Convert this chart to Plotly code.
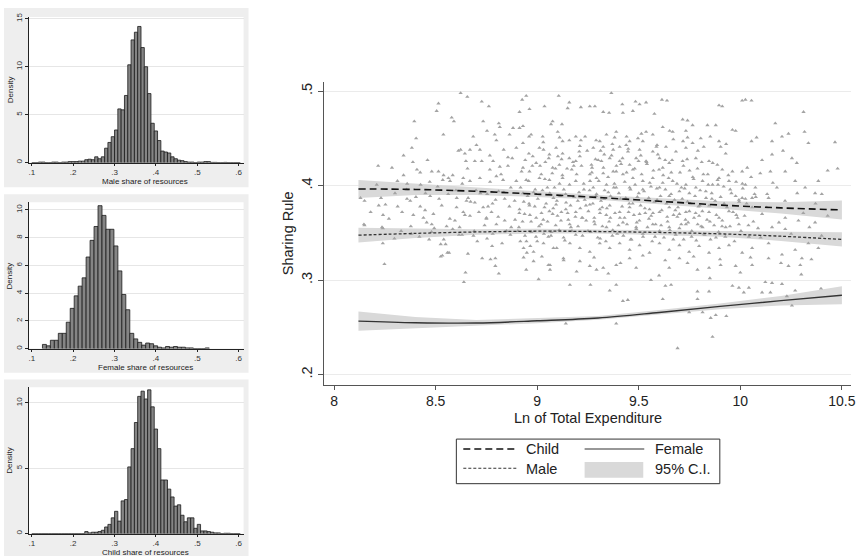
import plotly.graph_objects as go

W, H = 865, 560
FONT = "Liberation Sans, Arial, sans-serif"

# ---------------- Histogram data (density per bin) ----------------
male_bin_start, male_bin_width = 0.1, 0.008
male_density = [0, 0, 0.05, 0.05, 0, 0, 0.05, 0.05, 0, 0.05, 0.05, 0.1, 0.1, 0.1, 0.15, 0.15,
                0.3, 0.35, 0.3, 0.6, 0.4, 0.6, 1.5, 2.1, 2.7, 3.4, 5.6, 5.5, 7.0, 10.2, 12.8, 13.6,
                14.2, 12.0, 10.0, 7.2, 4.1, 3.3, 2.3, 1.2, 1.1, 1.0, 0.6, 0.4, 0.25, 0.2, 0.1, 0.05,
                0.05, 0, 0.05, 0.05, 0.1, 0.1, 0.02, 0.02, 0, 0, 0.02, 0, 0, 0, 0]

female_bin_start, female_bin_width = 0.1257, 0.0096
female_density = [0.3, 0.2, 0.6, 0.6, 1.1, 1.1, 1.9, 2.9, 3.8, 4.5, 5.1, 6.6, 7.8, 8.8, 10.3, 9.6,
                  8.6, 8.6, 7.4, 5.6, 3.9, 2.8, 1.1, 0.7, 0.45, 0.25, 0.4, 0.35, 0.2, 0.1, 0.05, 0.15,
                  0.1, 0.15, 0.1, 0.1, 0.05, 0.05, 0, 0, 0, 0.05]

child_bin_start, child_bin_width = 0.1, 0.008
child_density = [0, 0, 0, 0, 0, 0, 0, 0, 0, 0, 0, 0, 0, 0, 0, 0,
                 0.15, 0.05, 0.1, 0.1, 0.15, 0.25, 0.5, 0.7, 1.2, 1.7, 0.95, 2.5, 2.6, 5.1, 6.5, 8.5,
                 10.5, 10.9, 10.3, 11.0, 9.7, 8.0, 6.5, 4.1, 4.1, 3.4, 2.8, 2.1, 2.2, 1.4, 0.9, 1.2,
                 1.2, 0.4, 0.7, 0.2, 0.2, 0.15, 0.1, 0.05, 0.05, 0, 0.02, 0.02, 0, 0, 0]

hist_xticks = [0.1, 0.2, 0.3, 0.4, 0.5, 0.6]
hist_xticktext = [".1", ".2", ".3", ".4", ".5", ".6"]
male_yticks = [0, 5, 10, 15]
female_yticks = [0, 2, 4, 6, 8, 10]
child_yticks = [0, 5, 10]

# ---------------- Main chart data ----------------
fit_x = [8.12, 8.4, 8.7, 9.0, 9.3, 9.6, 9.9, 10.2, 10.5]
child_fit = [.3965, .3960, .3940, .3910, .3875, .3835, .3795, .3765, .3743]
child_hi = [.4060, .4020, .3980, .3940, .3900, .3865, .3835, .3825, .3843]
child_lo = [.3870, .3900, .3900, .3880, .3850, .3805, .3755, .3705, .3643]
male_fit = [.3476, .3495, .3510, .3518, .3515, .3505, .3490, .3465, .3431]
male_hi = [.3554, .3545, .3540, .3543, .3535, .3530, .3520, .3515, .3506]
male_lo = [.3398, .3445, .3480, .3493, .3495, .3480, .3460, .3415, .3356]
female_fit = [.2567, .2550, .2547, .2570, .2600, .2658, .2722, .2783, .2840]
female_hi = [.2669, .2610, .2577, .2595, .2620, .2683, .2752, .2833, .2935]
female_lo = [.2465, .2490, .2517, .2545, .2580, .2633, .2692, .2733, .2745]

main_xticks = [8, 8.5, 9, 9.5, 10, 10.5]
main_xticktext = ["8", "8.5", "9", "9.5", "10", "10.5"]
main_yticks = [0.2, 0.3, 0.4, 0.5]
main_yticktext = [".2", ".3", ".4", ".5"]

scatter_pts = [
    (8.623, .498), (8.656, .494), (8.727, .489), (8.762, .484), (8.514, .487), (8.505, .479), (8.395, .468),
    (8.579, .472), (8.590, .468), (8.926, .491), (8.946, .495), (8.913, .478), (8.962, .481), (9.036, .484),
    (9.106, .495), (9.150, .482), (9.158, .488), (9.215, .483), (8.734, .468), (8.811, .466), (8.816, .462),
    (8.753, .458), (8.404, .450), (8.538, .454), (8.685, .452), (8.701, .443), (8.718, .438), (8.791, .454),
    (8.799, .448), (8.881, .461), (8.913, .461), (8.930, .463), (8.970, .454), (8.864, .454), (9.027, .452),
    (9.068, .465), (9.076, .468), (9.122, .465), (9.101, .457), (9.125, .447), (9.158, .448), (9.190, .452),
    (9.215, .448), (8.383, .440), (8.342, .432), (8.388, .425), (8.285, .419), (8.217, .421), (8.342, .411),
    (8.408, .417), (8.424, .414), (8.460, .427), (8.481, .415), (8.514, .415), (8.535, .406), (8.563, .408),
    (8.584, .411), (8.612, .437), (8.623, .438), (8.644, .434), (8.669, .438), (8.649, .426), (8.693, .426),
    (8.767, .432), (8.783, .426), (8.767, .417), (8.816, .420), (8.856, .421), (8.835, .438), (8.856, .430),
    (8.897, .440), (8.930, .445), (8.959, .434), (8.978, .431), (8.995, .424), (8.930, .419), (8.962, .415),
    (9.011, .440), (9.031, .438), (9.060, .433), (9.093, .440), (9.125, .434), (9.076, .419), (9.109, .422),
    (9.158, .429), (9.190, .426), (9.207, .436), (8.571, .405), (8.636, .408), (8.669, .405), (8.718, .408),
    (8.799, .410), (8.832, .406), (8.897, .405), (8.946, .406), (9.011, .408), (9.060, .406), (9.125, .408),
    (9.190, .405),
    (8.130, .387), (8.231, .387), (8.220, .379), (8.253, .380), (8.313, .378), (8.359, .386), (8.375, .384),
    (8.241, .369), (8.147, .359), (8.236, .356), (8.378, .357), (8.424, .378), (8.473, .389), (8.489, .370),
    (8.530, .379), (8.440, .366), (8.456, .361), (8.481, .359), (8.554, .357), (8.595, .363), (8.603, .377),
    (8.636, .372), (8.669, .368), (8.652, .384), (8.693, .382), (8.734, .377), (8.758, .378), (8.775, .372),
    (8.750, .366), (8.799, .359), (8.840, .363), (8.872, .356), (8.889, .384), (8.913, .375), (8.938, .370),
    (8.962, .379), (8.995, .366), (9.019, .359), (9.036, .377), (9.076, .370), (9.093, .380), (9.117, .363),
    (9.141, .375), (9.166, .356), (9.190, .372), (9.223, .366),
    (9.365, .498), (9.614, .491), (9.639, .490), (10.009, .490), (10.025, .491), (10.055, .490), (10.311, .478),
    (9.259, .484), (9.284, .484), (9.325, .478), (9.354, .477), (9.419, .486), (9.484, .489), (9.504, .486),
    (9.536, .488), (9.422, .477), (9.471, .479), (9.577, .476), (9.716, .470), (9.740, .469), (9.895, .485),
    (9.911, .484), (10.172, .466), (10.316, .457), (10.466, .446), (10.335, .445), (10.237, .455), (10.205, .452),
    (10.156, .447), (10.055, .447), (9.977, .458), (9.961, .459), (9.895, .447), (9.903, .441), (9.928, .434),
    (9.838, .464), (9.879, .464), (9.765, .464), (9.805, .450), (9.732, .458), (9.667, .457), (9.618, .462),
    (9.569, .454), (9.536, .457), (9.496, .450), (9.455, .447), (9.389, .457), (9.341, .454), (9.308, .447),
    (9.276, .440), (9.325, .441), (9.374, .438), (9.406, .441), (9.438, .443), (9.504, .438), (9.569, .436),
    (9.634, .441), (9.683, .436), (9.732, .440), (9.765, .445), (9.781, .429), (9.846, .426), (9.887, .422),
    (9.716, .426), (9.650, .424), (9.602, .429), (9.536, .426), (9.487, .429), (9.455, .422), (9.406, .426),
    (9.357, .429), (9.316, .426), (9.267, .422), (10.107, .427), (10.156, .433), (10.254, .429), (10.278, .424),
    (10.148, .415), (10.221, .415), (10.270, .405), (10.384, .405), (10.430, .416), (10.479, .418), (10.319, .398),
    (10.368, .392), (10.401, .391), (10.180, .398), (10.132, .391), (10.139, .387), (10.009, .415), (10.034, .419),
    (9.961, .415), (9.911, .417), (9.895, .408), (9.944, .405), (10.025, .401), (10.074, .398), (10.058, .387),
    (10.009, .387), (9.977, .389), (9.863, .401), (9.814, .405), (9.732, .401), (9.667, .405), (9.618, .403),
    (9.569, .408), (9.520, .405), (9.471, .408), (9.422, .412), (9.374, .415), (9.325, .413), (9.292, .408),
    (9.259, .412), (9.276, .398), (9.341, .401), (9.389, .398), (9.455, .398), (9.520, .396), (9.602, .398),
    (9.700, .394), (9.781, .398),
    (9.259, .380), (9.308, .375), (9.357, .379), (9.406, .372), (9.455, .377), (9.504, .370), (9.553, .375),
    (9.602, .372), (9.650, .377), (9.700, .370), (9.749, .373), (9.797, .368), (9.846, .372), (9.895, .366),
    (9.944, .373), (9.993, .385), (10.025, .386), (10.058, .377), (10.107, .370), (10.221, .366), (10.286, .363),
    (10.368, .361), (9.284, .359), (9.341, .356), (9.422, .361), (9.487, .356), (9.569, .359), (9.650, .356),
    (9.732, .359), (9.814, .356), (9.928, .356), (9.993, .359), (10.156, .356), (10.221, .354),
    (9.063, .316), (9.161, .295), (9.262, .295), (9.357, .289), (9.389, .295), (9.422, .278), (9.446, .279),
    (9.389, .254), (9.141, .254), (9.618, .280), (9.631, .294), (9.659, .295), (9.691, .228), (9.789, .288),
    (9.789, .280), (9.846, .288), (9.863, .240), (9.854, .260), (9.879, .263), (9.931, .262), (9.748, .266),
    (9.814, .266), (9.961, .294), (9.993, .292), (10.017, .287), (10.042, .292), (10.107, .287), (10.148, .287),
    (10.123, .298), (10.156, .297), (10.205, .296), (10.229, .283), (10.254, .273), (10.270, .289), (10.397, .291),
    (10.295, .316), (10.303, .323), (10.237, .315), (10.139, .323), (10.058, .316), (9.977, .315), (9.903, .316),
    (9.846, .313), (9.789, .311), (9.740, .318), (9.700, .323), (9.650, .313), (9.560, .300), (9.487, .313),
    (9.455, .323), (9.389, .316), (9.325, .313), (9.292, .311), (9.259, .315), (9.210, .320), (9.194, .309),
    (9.129, .323),
    (8.248, .317), (8.525, .325), (8.558, .329), (8.659, .328), (8.647, .308), (8.639, .298), (8.729, .323),
    (8.770, .322), (8.794, .323), (8.794, .315), (8.811, .307), (8.933, .324), (8.949, .329), (8.982, .320),
    (8.946, .311), (9.007, .301), (9.023, .325), (9.055, .316), (9.063, .311),
    (8.150, .358), (8.240, .355), (8.297, .344), (8.468, .343), (8.525, .338), (8.549, .338), (8.533, .326),
    (8.566, .329), (8.615, .348), (8.705, .341), (8.753, .344), (8.778, .336), (8.827, .339), (8.868, .348),
    (8.917, .341), (8.933, .334), (8.966, .336), (8.982, .330), (9.031, .339), (9.055, .346), (9.080, .334),
    (9.096, .334), (9.161, .339), (9.210, .334), (9.259, .330), (9.308, .339), (9.357, .334), (9.406, .339),
    (9.455, .332), (9.504, .337), (9.553, .329), (9.602, .339), (9.650, .332), (9.700, .337), (9.748, .330),
    (9.797, .336), (9.846, .329), (9.895, .334), (9.944, .337), (10.009, .329), (10.058, .334), (10.139, .339),
    (10.205, .327), (10.270, .332), (10.335, .339), (10.384, .334),
    (9.02, .412), (9.05, .398), (9.08, .387), (9.11, .402), (9.14, .391), (9.17, .417), (9.20, .384),
    (9.23, .396), (9.26, .405), (9.29, .389), (9.32, .377), (9.35, .393), (9.38, .402), (9.41, .386),
    (9.44, .414), (9.47, .381), (9.50, .392), (9.53, .376), (9.56, .399), (9.59, .385), (9.62, .411),
    (9.65, .389), (9.68, .374), (9.71, .398), (9.74, .383), (9.77, .407), (9.80, .379), (9.83, .394),
    (9.86, .386), (9.89, .401),
    (9.03, .364), (9.07, .351), (9.10, .368), (9.13, .345), (9.16, .359), (9.19, .348), (9.22, .366),
    (9.25, .352), (9.28, .362), (9.31, .344), (9.34, .369), (9.37, .347), (9.40, .358), (9.43, .366),
    (9.46, .343), (9.49, .361), (9.52, .349), (9.55, .365), (9.58, .346), (9.61, .358), (9.64, .367),
    (9.67, .343), (9.70, .355), (9.73, .364), (9.76, .346), (9.79, .359), (9.82, .349), (9.85, .362),
    (9.88, .345), (9.91, .357),
    (9.04, .425), (9.09, .418), (9.12, .428), (9.18, .421), (9.21, .431), (9.27, .419), (9.30, .427),
    (9.33, .433), (9.39, .421), (9.42, .429), (9.48, .418), (9.51, .432), (9.54, .423), (9.60, .417),
    (9.63, .427), (9.66, .414), (9.72, .421), (9.75, .416), (9.81, .425), (9.84, .412),
    (8.93, .392), (8.96, .381), (8.99, .396), (8.91, .356), (8.94, .347), (8.97, .362), (9.00, .341),
    (8.87, .398), (8.84, .386), (8.81, .394), (8.78, .381), (8.75, .365), (8.72, .392), (8.69, .352),
    (8.66, .387), (8.63, .348), (8.60, .395), (8.57, .365), (8.54, .343), (8.51, .399), (8.48, .351),
    (8.45, .392), (8.42, .346), (8.39, .369), (8.36, .402), (8.33, .352), (8.30, .392), (8.27, .365),
    (8.24, .339), (8.21, .401), (8.18, .372), (8.15, .384),
    (9.06, .373), (9.15, .371), (9.24, .379), (9.33, .386), (9.36, .366), (9.45, .372), (9.57, .371),
    (9.69, .367), (9.78, .371), (9.92, .381), (9.95, .396), (9.98, .369), (10.01, .402), (10.04, .358),
    (10.07, .391), (10.10, .345), (10.13, .377), (10.16, .403), (10.19, .361), (10.22, .384), (10.25, .349),
    (10.28, .392), (10.31, .371), (10.34, .356), (10.37, .381), (10.40, .347), (10.43, .368),
    (9.21, .442), (9.29, .448), (9.37, .444), (9.44, .452), (9.52, .447), (9.59, .443), (9.67, .449),
    (9.11, .451), (9.03, .446), (8.96, .452), (9.74, .451), (9.82, .441), (9.93, .444), (10.08, .451),
    (10.21, .437),
    (9.13, .321), (9.28, .324), (9.41, .318), (9.52, .326), (9.63, .321), (9.77, .325), (9.90, .322),
    (10.05, .324), (10.20, .318), (10.35, .322), (9.35, .307), (9.60, .305), (9.85, .302), (10.00, .308),
    (10.30, .306),
    # dense core, estimated
    (8.905, .352), (8.912, .371), (8.918, .398), (8.923, .415), (8.928, .362), (8.934, .383), (8.941, .427),
    (8.947, .341), (8.953, .389), (8.958, .405), (8.964, .369), (8.971, .351), (8.976, .421), (8.982, .393),
    (8.988, .378), (8.994, .346),
    (9.003, .386), (9.009, .357), (9.014, .421), (9.021, .371), (9.026, .395), (9.033, .349), (9.038, .407),
    (9.044, .381), (9.051, .362), (9.057, .429), (9.062, .392), (9.068, .347), (9.074, .413), (9.079, .376),
    (9.085, .398), (9.091, .358), (9.097, .384),
    (9.102, .431), (9.108, .353), (9.113, .389), (9.119, .372), (9.124, .411), (9.131, .396), (9.136, .342),
    (9.142, .382), (9.147, .418), (9.153, .364), (9.159, .401), (9.164, .379), (9.171, .352), (9.176, .425),
    (9.182, .388), (9.188, .367), (9.194, .412),
    (9.201, .357), (9.206, .393), (9.212, .376), (9.218, .421), (9.223, .347), (9.229, .402), (9.234, .385),
    (9.241, .363), (9.246, .437), (9.252, .373), (9.258, .395), (9.263, .351), (9.269, .414), (9.274, .381),
    (9.281, .366), (9.287, .428), (9.292, .391), (9.298, .345),
    (9.303, .405), (9.309, .371), (9.314, .384), (9.321, .357), (9.326, .419), (9.332, .395), (9.338, .341),
    (9.343, .376), (9.349, .409), (9.354, .362), (9.361, .389), (9.366, .432), (9.372, .353), (9.377, .398),
    (9.383, .371), (9.389, .415), (9.394, .349),
    (9.402, .392), (9.407, .366), (9.413, .423), (9.418, .378), (9.424, .347), (9.431, .404), (9.436, .387),
    (9.442, .359), (9.447, .436), (9.453, .381), (9.459, .396), (9.464, .343), (9.471, .417), (9.476, .369),
    (9.482, .401), (9.488, .354), (9.493, .388), (9.499, .426),
    (9.503, .363), (9.509, .379), (9.514, .412), (9.521, .346), (9.526, .394), (9.532, .371), (9.538, .425),
    (9.543, .356), (9.549, .387), (9.554, .403), (9.561, .368), (9.566, .341), (9.572, .416), (9.577, .383),
    (9.583, .359), (9.589, .397), (9.594, .433),
    (9.602, .352), (9.607, .389), (9.613, .374), (9.618, .419), (9.624, .345), (9.631, .396), (9.636, .381),
    (9.642, .362), (9.647, .408), (9.653, .353), (9.659, .391), (9.664, .427), (9.671, .369), (9.676, .385),
    (9.682, .348), (9.688, .402), (9.693, .377),
    (9.703, .414), (9.709, .359), (9.714, .386), (9.721, .343), (9.726, .397), (9.732, .372), (9.738, .428),
    (9.743, .361), (9.749, .392), (9.754, .381), (9.761, .352), (9.766, .409), (9.772, .366), (9.777, .389),
    (9.783, .342), (9.789, .418), (9.794, .378),
    (9.802, .395), (9.807, .357), (9.813, .373), (9.818, .412), (9.824, .348), (9.831, .387), (9.836, .364),
    (9.842, .401), (9.847, .379), (9.853, .343), (9.859, .392), (9.864, .424), (9.871, .358), (9.876, .384),
    (9.882, .369), (9.888, .406), (9.893, .351),
    (9.903, .388), (9.911, .363), (9.918, .399), (9.926, .346), (9.934, .377), (9.941, .411), (9.949, .357),
    (9.956, .392), (9.964, .372), (9.971, .341), (9.979, .404), (9.986, .366), (9.994, .383),
    (10.003, .352), (10.012, .397), (10.021, .368), (10.031, .381), (10.042, .346), (10.053, .409),
    (10.064, .362), (10.076, .388), (10.087, .355), (10.098, .413),
    (8.604, .387), (8.618, .356), (8.631, .402), (8.644, .369), (8.657, .418), (8.672, .383), (8.686, .347),
    (8.699, .395), (8.713, .372), (8.727, .426), (8.741, .358), (8.754, .391), (8.768, .404), (8.781, .349),
    (8.795, .385), (8.808, .367), (8.822, .412), (8.836, .393), (8.849, .352), (8.863, .378), (8.877, .429),
    (8.891, .364),
    (8.312, .405), (8.335, .372), (8.357, .396), (8.381, .349), (8.403, .388), (8.426, .401), (8.448, .374),
    (8.471, .404), (8.493, .355), (8.517, .386), (8.539, .411), (8.562, .391), (8.584, .354),
    (9.236, .452), (9.312, .437), (9.381, .451), (9.448, .439), (9.513, .455), (9.587, .441), (9.652, .458),
    (9.718, .447), (9.791, .437), (9.852, .452),
]

legend_labels = ["Child", "Female", "Male", "95% C.I."]


# ---------------- helpers ----------------
def px_x(px):
    return px / W


def px_y(py):
    return 1 - py / H


def centers(start, width, n):
    return [start + width * (i + 0.5) for i in range(n)]


fig = go.Figure()

# ---------------- histograms ----------------
hists = [
    (male_bin_start, male_bin_width, male_density, "x2", "y2"),
    (female_bin_start, female_bin_width, female_density, "x3", "y3"),
    (child_bin_start, child_bin_width, child_density, "x4", "y4"),
]
for start, wdt, dens, xa, ya in hists:
    fig.add_trace(go.Bar(
        x=centers(start, wdt, len(dens)), y=dens, width=wdt,
        marker=dict(color="#858585", line=dict(color="#1a1a1a", width=0.8)),
        xaxis=xa, yaxis=ya, showlegend=False, hoverinfo="skip"))

# ---------------- main chart ----------------
band_color = "#d9d9d9"
for hi, lo in [(child_hi, child_lo), (male_hi, male_lo), (female_hi, female_lo)]:
    fig.add_trace(go.Scatter(
        x=fit_x + fit_x[::-1], y=hi + lo[::-1], fill="toself", fillcolor=band_color,
        line=dict(width=0), mode="lines", showlegend=False, hoverinfo="skip"))

fig.add_trace(go.Scatter(
    x=[p[0] for p in scatter_pts], y=[p[1] for p in scatter_pts], mode="markers",
    marker=dict(symbol="triangle-up", size=3.8, color="#a3a3a3", line=dict(width=0)),
    showlegend=False, hoverinfo="skip"))

fig.add_trace(go.Scatter(x=fit_x, y=child_fit, mode="lines",
                         line=dict(color="#111111", width=1.6, dash="7px,4px", shape="spline"),
                         showlegend=False, hoverinfo="skip"))
fig.add_trace(go.Scatter(x=fit_x, y=male_fit, mode="lines",
                         line=dict(color="#333333", width=1.3, dash="3px,2px", shape="spline"),
                         showlegend=False, hoverinfo="skip"))
fig.add_trace(go.Scatter(x=fit_x, y=female_fit, mode="lines",
                         line=dict(color="#333333", width=1.4, shape="spline"),
                         showlegend=False, hoverinfo="skip"))

# ---------------- shapes: panel backgrounds + legend ----------------
shapes = []
panel_boxes = [  # (outer gray region px, inner white plot region px)
    ((4, 4, 250, 185), (29, 13, 245, 160)),
    ((4, 192, 250, 372), (29, 200, 245, 347.7)),
    ((4, 379, 250, 557), (29, 386.7, 245, 534.3)),
]
for (ox0, oy0, ox1, oy1), (ix0, iy0, ix1, iy1) in panel_boxes:
    shapes.append(dict(type="rect", xref="paper", yref="paper", layer="below",
                       x0=px_x(ox0), x1=px_x(ox1), y0=px_y(oy1), y1=px_y(oy0),
                       fillcolor="#eeeeee", line=dict(width=0)))
    shapes.append(dict(type="rect", xref="paper", yref="paper", layer="below",
                       x0=px_x(ix0), x1=px_x(ix1), y0=px_y(iy1), y1=px_y(iy0),
                       fillcolor="#ffffff", line=dict(width=0)))

# legend box
shapes.append(dict(type="rect", xref="paper", yref="paper",
                   x0=px_x(459), x1=px_x(724), y0=px_y(484), y1=px_y(439),
                   line=dict(color="#333333", width=1), fillcolor="rgba(0,0,0,0)"))
shapes.append(dict(type="line", xref="paper", yref="paper",
                   x0=px_x(466), x1=px_x(520), y0=px_y(449), y1=px_y(449),
                   line=dict(color="#111111", width=1.4, dash="7px,4px")))
shapes.append(dict(type="line", xref="paper", yref="paper",
                   x0=px_x(588), x1=px_x(648), y0=px_y(449), y1=px_y(449),
                   line=dict(color="#333333", width=1.2)))
shapes.append(dict(type="line", xref="paper", yref="paper",
                   x0=px_x(466), x1=px_x(520), y0=px_y(468.5), y1=px_y(468.5),
                   line=dict(color="#333333", width=1.1, dash="3px,2px")))
shapes.append(dict(type="rect", xref="paper", yref="paper",
                   x0=px_x(588), x1=px_x(647), y0=px_y(478), y1=px_y(462),
                   fillcolor=band_color, line=dict(width=0)))

annotations = []


def text(t, px, py, size, angle=0, xanchor="center", color="#222222"):
    annotations.append(dict(text=t, x=px_x(px), y=px_y(py), xref="paper", yref="paper",
                            showarrow=False, textangle=angle, xanchor=xanchor, yanchor="middle",
                            font=dict(family=FONT, size=size, color=color)))


# legend texts
text(legend_labels[0], 527, 449, 14.5, xanchor="left")
text(legend_labels[1], 657, 449, 14.5, xanchor="left")
text(legend_labels[2], 527, 469, 14.5, xanchor="left")
text(legend_labels[3], 657, 469, 14.5, xanchor="left")

# main axis titles
text("Ln of Total Expenditure", 591, 418, 14.5)
text("Sharing Rule", 290, 231, 14.5, angle=-90)

# panel titles
text("Male share of resources", 146, 179.5, 8)
text("Female share of resources", 146, 367, 8)
text("Child share of resources", 146, 553.5, 8)
for cy in [86, 274, 460]:
    text("Density", 10, cy, 8, angle=-90)


# ---------------- axes ----------------
def hist_xaxis(ydom_anchor):
    return dict(domain=[px_x(29), px_x(245)], range=[0.0928, 0.612], anchor=ydom_anchor,
                tickvals=hist_xticks, ticktext=hist_xticktext, ticks="outside", ticklen=2,
                tickcolor="#222", showline=True, linecolor="#222", linewidth=1,
                showgrid=False, zeroline=False, tickfont=dict(family=FONT, size=8, color="#333"))


def hist_yaxis(xanchor, dom, rng, tv):
    return dict(domain=dom, range=rng, anchor=xanchor, tickvals=tv, ticktext=[str(v) for v in tv],
                ticks="outside", ticklen=3, tickcolor="#222", showline=True, linecolor="#222",
                linewidth=1, showgrid=True, gridcolor="#e6e6e6", gridwidth=1, zeroline=False,
                tickangle=-90, tickfont=dict(family=FONT, size=8, color="#333"))


layout = dict(
    width=W, height=H, autosize=False,
    margin=dict(l=0, r=0, t=0, b=0),
    paper_bgcolor="#ffffff", plot_bgcolor="rgba(0,0,0,0)",
    showlegend=False, barmode="overlay", hovermode=False,
    font=dict(family=FONT, color="#222"),
    xaxis=dict(domain=[px_x(326), px_x(856)], range=[7.951, 10.545], anchor="y",
               tickvals=main_xticks, ticktext=main_xticktext, ticks="outside", ticklen=4,
               tickcolor="#555", showline=True, linecolor="#555", linewidth=1.2,
               showgrid=False, zeroline=False, tickfont=dict(family=FONT, size=14, color="#222")),
    yaxis=dict(domain=[px_y(384), px_y(79)], range=[0.1895, 0.5094], anchor="x",
               tickvals=main_yticks, ticktext=main_yticktext, ticks="outside", ticklen=5,
               tickcolor="#555", showline=True, linecolor="#555", linewidth=1.2,
               showgrid=True, gridcolor="#ebebeb", gridwidth=1, zeroline=False, tickangle=-90,
               tickfont=dict(family=FONT, size=14.5, color="#222")),
    xaxis2=hist_xaxis("y2"),
    yaxis2=hist_yaxis("x2", [px_y(160), px_y(13)], [0, 15.2], male_yticks),
    xaxis3=hist_xaxis("y3"),
    yaxis3=hist_yaxis("x3", [px_y(347.7), px_y(200)], [0, 10.55], female_yticks),
    xaxis4=hist_xaxis("y4"),
    yaxis4=hist_yaxis("x4", [px_y(534.3), px_y(386.7)], [0, 11.2], child_yticks),
    shapes=shapes,
    annotations=annotations,
)
fig.update_layout(**layout)

fig.write_html("out.html", config={"displayModeBar": False},
               post_script="document.body.style.margin='0';")
